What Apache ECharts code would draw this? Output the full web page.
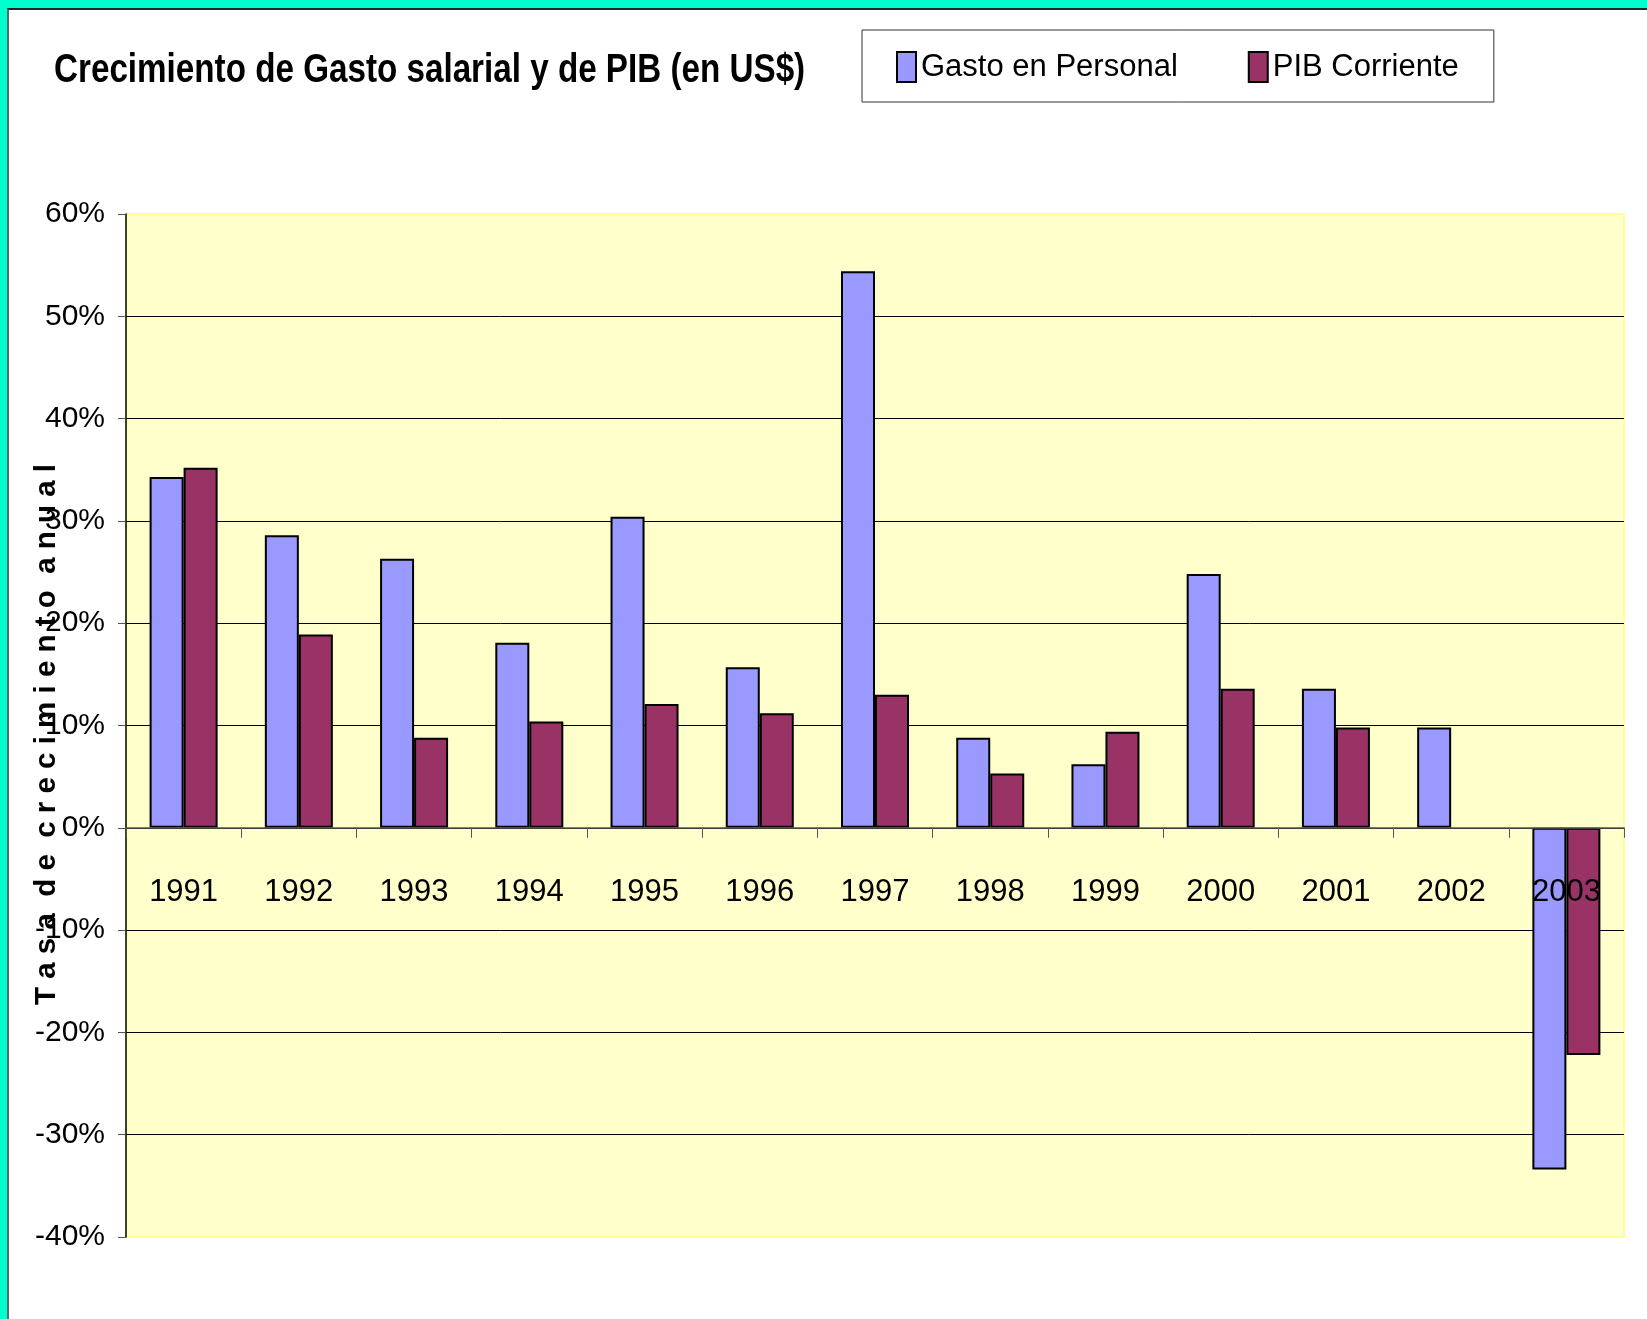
<!DOCTYPE html>
<html>
<head>
<meta charset="utf-8">
<script src="https://cdn.jsdelivr.net/npm/echarts@6/dist/echarts.min.js"></script>
<style>
  html, body { margin: 0; padding: 0; background: #fff; }
  #chart { position: absolute; left: 0; top: 0; width: 1647px; height: 1319px; }
  /* marco turquesa superior e izquierdo */
  #frame {
    position: absolute; left: 0; top: 0; width: 1660px; height: 1330px;
    box-sizing: border-box; pointer-events: none;
    border-top: 8px solid #00FFCC; border-left: 7px solid #00FFCC;
  }
  #frame-inner {
    position: absolute; left: 7px; top: 8px; width: 1660px; height: 1330px;
    box-sizing: border-box; pointer-events: none;
    border-top: 2px solid #1a2a2a; border-left: 2px solid #666;
  }
</style>
</head>
<body>
<div id="chart"></div>
<div id="frame"></div>
<div id="frame-inner"></div>
<script>
// 数据
const years = ['1991', '1992', '1993', '1994', '1995', '1996', '1997',
               '1998', '1999', '2000', '2001', '2002', '2003'];
const gastoPersonal = [34.3, 28.6, 26.3, 18.1, 30.4, 15.7, 54.4, 8.8, 6.2, 24.8, 13.6, 9.8, -33.4];
const pibCorriente = [35.2, 18.9, 8.8, 10.4, 12.1, 11.2, 13.0, 5.3, 9.4, 13.6, 9.8, null, -22.2];
const yMin = -40, yMax = 60, yStep = 10;

const FONT = "'Liberation Sans', Arial, sans-serif";

// 绘图区位置
const GRID = { left: 126, right: 23, top: 214, bottom: 82 };
const plotHeight = 1319 - GRID.top - GRID.bottom;
// 把类目轴放到 0% 位置
const zeroOffset = -plotHeight * (0 - yMin) / (yMax - yMin);

const chart = echarts.init(document.getElementById('chart'));

// 顶部和底部网格线用浅黄色
const splitColors = [];
for (let v = yMin; v <= yMax; v += yStep) {
    splitColors.push(v === yMin || v === yMax ? '#FFFF99' : '#000000');
}

const option = {
    animation: false,
    backgroundColor: '#ffffff',
    graphic: [{
        type: 'text',
        left: 54,
        top: 50,
        scaleX: 0.82,
        style: {
            text: 'Crecimiento de Gasto salarial y de PIB (en US$)',
            font: "bold 40.5px 'Liberation Sans', Arial, sans-serif",
            fill: '#000'
        }
    }],
    legend: {
        left: 862,
        top: 30,
        padding: [21, 35, 19, 34],
        itemGap: 70,
        itemWidth: 19,
        itemHeight: 30,
        icon: 'rect',
        borderColor: '#333',
        borderWidth: 1,
        backgroundColor: '#fff',
        textStyle: { fontFamily: FONT, fontSize: 31, color: '#000' }
    },
    grid: {
        left: GRID.left,
        right: GRID.right,
        top: GRID.top,
        bottom: GRID.bottom,
        outerBoundsMode: 'none',
        show: true,
        backgroundColor: '#FFFFCC',
        borderColor: '#FFFF99',
        borderWidth: 2
    },
    xAxis: {
        type: 'category',
        data: years,
        z: 10,
        offset: zeroOffset,
        axisLine: { onZero: false, lineStyle: { color: '#555', width: 1.5 } },
        axisTick: { show: true, inside: false, length: 10, interval: 0, lineStyle: { color: '#555' } },
        axisLabel: { margin: 49, fontFamily: FONT, fontSize: 31, color: '#000' },
        splitLine: { show: false }
    },
    yAxis: {
        type: 'value',
        min: yMin,
        max: yMax,
        interval: yStep,
        name: 'T a s a  d e  c r e c i m i e n t o  a n u a l',
        nameLocation: 'middle',
        nameGap: 64,
        nameMoveOverlap: false,
        nameTextStyle: { fontFamily: FONT, fontSize: 29.5, fontWeight: 'bold', color: '#000', padding: [0, 18, 0, 0] },
        axisLine: { show: true, lineStyle: { color: '#000', width: 1.5 } },
        axisTick: { show: true, length: 8, lineStyle: { color: '#555' } },
        axisLabel: { formatter: '{value}%', margin: 21, fontFamily: FONT, fontSize: 30, color: '#000' },
        splitLine: { show: true, lineStyle: { color: splitColors, width: 1 } }
    },
    series: [
        {
            name: 'Gasto en Personal',
            type: 'bar',
            data: gastoPersonal,
            barWidth: 34,
            barGap: '0%',
            itemStyle: { color: '#9999FF', borderColor: '#000', borderWidth: 2 }
        },
        {
            name: 'PIB Corriente',
            type: 'bar',
            data: pibCorriente,
            barWidth: 34,
            barGap: '0%',
            itemStyle: { color: '#993366', borderColor: '#000', borderWidth: 2 }
        }
    ]
};

chart.setOption(option);
</script>
</body>
</html>
